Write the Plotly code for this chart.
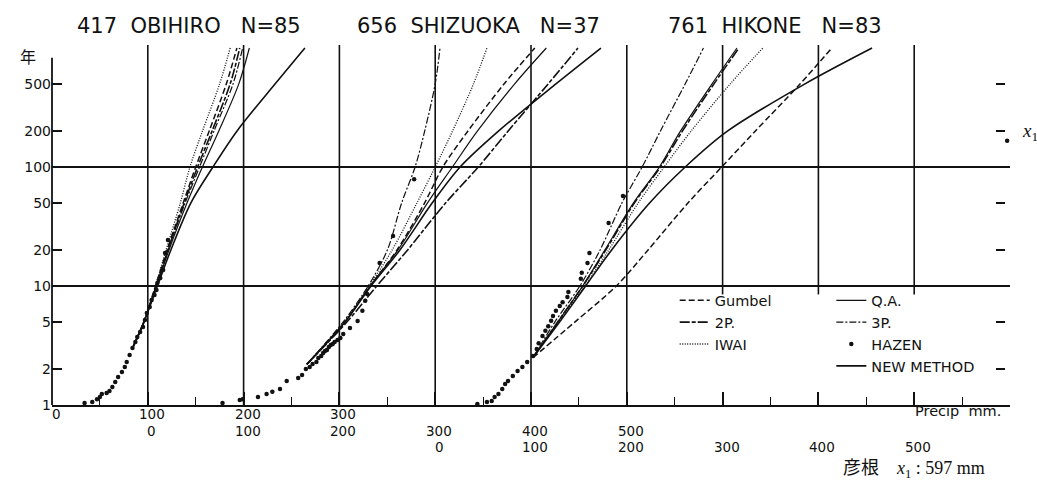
import math
import plotly.graph_objects as go

# ---------------- data (precipitation in each station's own mm, return period T in years) -------------
station_names = ["OBIHIRO", "SHIZUOKA", "HIKONE"]
station_titles = ["417\u00a0\u00a0OBIHIRO\u00a0\u00a0\u00a0N=85",
                  "656\u00a0\u00a0SHIZUOKA\u00a0\u00a0\u00a0N=37",
                  "761\u00a0\u00a0HIKONE\u00a0\u00a0\u00a0N=83"]
station_offsets = [0, 100, 400]          # where each station's 0 mm sits on the shared axis

methods = ["Gumbel", "Q.A.", "2P.", "3P.", "IWAI", "NEW METHOD"]

# OBIHIRO
obi_T = [3, 5, 10, 20, 50, 100, 200, 500, 1000]
obi_gumbel = [84, 96, 108, 120, 137, 150, 164, 182, 193]
obi_2p = [84, 96, 109, 121, 138, 152, 167, 186, 196]
obi_3p = [84, 96, 109, 121, 139, 154, 169, 189, 199]
obi_qa = [84, 96, 109, 122, 141, 157, 174, 195, 206]
obi_iwai = [84, 96, 108, 119, 134, 144, 157, 175, 186]
obi_new = [84, 96, 110, 124, 145, 168, 193, 233, 264]
obi_hazen_mm = [34, 42, 47, 50, 52, 57, 60, 63, 66, 69, 73, 76, 78, 81, 84, 87, 89, 92, 95, 97,
                99, 102, 104, 107, 109, 110, 113, 116, 118, 121]
obi_hazen_T = [1.04, 1.06, 1.12, 1.17, 1.24, 1.26, 1.31, 1.42, 1.56, 1.72, 1.89, 2.09, 2.3, 2.63,
               3.01, 3.38, 3.72, 4.11, 4.52, 5.18, 5.94, 6.66, 7.62, 8.4, 9.25, 10.6, 11.7, 13.6,
               18.9, 24.4]

# SHIZUOKA
shz_T = [2.2, 5, 10, 20, 50, 100, 200, 500, 1000]
shz_gumbel = [166, 206, 232, 260, 289, 308, 334, 372, 404]
shz_2p = [166, 208, 239, 271, 311, 345, 376, 418, 449]
shz_3p = [166, 204, 230, 250, 265, 279, 289, 300, 305]
shz_qa = [166, 206, 232, 261, 292, 318, 344, 383, 416]
shz_iwai = [166, 205, 231, 255, 281, 300, 318, 340, 354]
shz_new = [166, 206, 233, 263, 297, 326, 366, 426, 473]
shz_hazen_mm = [78, 96, 99, 115, 124, 130, 138, 145, 157, 161, 165, 169, 172, 176, 178, 181, 183,
                185, 187, 189, 191, 193, 195, 198, 201, 204, 211, 219, 224, 227, 229, 242, 256, 278]
shz_hazen_T = [1.04, 1.10, 1.12, 1.17, 1.24, 1.29, 1.36, 1.59, 1.69, 1.79, 2.01, 2.09, 2.21, 2.30,
               2.48, 2.58, 2.73, 2.84, 2.90, 3.07, 3.19, 3.25, 3.38, 3.52, 3.66, 3.95, 4.44, 5.08,
               6.2, 7.5, 8.56, 15.6, 26.3, 79]

# HIKONE
hik_T = [2.5, 5, 10, 20, 50, 100, 200, 500, 1000]
hik_gumbel = [102, 146, 189, 222, 264, 299, 334, 381, 414]
hik_2p = [102, 128, 154, 178, 208, 235, 258, 291, 317]
hik_3p = [102, 125, 151, 172, 195, 216, 235, 261, 280]
hik_qa = [102, 128, 154, 177, 207, 234, 256, 289, 315]
hik_iwai = [102, 129, 156, 181, 212, 239, 267, 308, 342]
hik_new = [102, 130, 157, 184, 224, 261, 305, 386, 456]
hik_hazen_mm = [44, 54, 59, 62, 66, 70, 73, 76, 81, 86, 91, 96, 102, 106, 108, 112, 115, 118, 121,
                123, 126, 130, 133, 138, 139, 152, 153, 159, 161, 181, 196]
hik_hazen_T = [1.02, 1.06, 1.08, 1.17, 1.24, 1.36, 1.50, 1.59, 1.75, 1.93, 2.09, 2.30, 2.58, 2.96,
               3.3, 3.8, 4.2, 4.6, 5.1, 5.6, 6.2, 6.8, 7.3, 8.1, 8.9, 11.5, 12.9, 15.6, 18.9, 33.8,
               57.1]
hik_x1_mm = 597
hik_x1_T = 166

# axis labelling
y_tick_vals = [1, 2, 5, 10, 20, 50, 100, 200, 500]
y_tick_text = ["1", "2", "5", "10", "20", "50", "100", "200", "500"]
y_mirror_ticks = [2, 5, 20, 50, 200, 500]
y_grid_vals = [10, 100]
y_axis_top = 830
x_full_grid = [100, 200, 300, 400, 500, 600]
x_short_grid = [700, 800, 900]
x_label_mm = [[0, 100, 200, 300], [0, 100, 200, 300, 400, 500], [0, 100, 200, 300, 400, 500]]

# ---------------- figure ----------------
curves = {
    "OBIHIRO": (obi_T, {"Gumbel": obi_gumbel, "Q.A.": obi_qa, "2P.": obi_2p, "3P.": obi_3p,
                        "IWAI": obi_iwai, "NEW METHOD": obi_new}, obi_hazen_mm, obi_hazen_T),
    "SHIZUOKA": (shz_T, {"Gumbel": shz_gumbel, "Q.A.": shz_qa, "2P.": shz_2p, "3P.": shz_3p,
                         "IWAI": shz_iwai, "NEW METHOD": shz_new}, shz_hazen_mm, shz_hazen_T),
    "HIKONE": (hik_T, {"Gumbel": hik_gumbel, "Q.A.": hik_qa, "2P.": hik_2p, "3P.": hik_3p,
                       "IWAI": hik_iwai, "NEW METHOD": hik_new}, hik_hazen_mm, hik_hazen_T),
}

styles = {
    "Gumbel": dict(dash="6px,3px", width=1.5),
    "Q.A.": dict(dash="solid", width=1.2),
    "2P.": dict(dash="10px,2px,4px,2px", width=1.6),
    "3P.": dict(dash="7px,2px,2px,2px", width=1.2),
    "IWAI": dict(dash="1px,1.5px", width=1.3),
    "NEW METHOD": dict(dash="solid", width=1.6),
}
# two legend columns as in the original
legend_of = {"Gumbel": "legend", "2P.": "legend", "IWAI": "legend",
             "Q.A.": "legend2", "3P.": "legend2", "HAZEN": "legend2", "NEW METHOD": "legend2"}
rank = {"Gumbel": 1, "2P.": 2, "IWAI": 3, "Q.A.": 1, "3P.": 2, "HAZEN": 3, "NEW METHOD": 4}

FONT = "DejaVu Sans"
INK = "#111111"
YTOP = math.log10(1060)

fig = go.Figure()

for si, name in enumerate(station_names):
    off = station_offsets[si]
    T, mdict, hz_mm, hz_T = curves[name]
    for m in methods:
        st = styles[m]
        fig.add_trace(go.Scatter(
            x=[v + off for v in mdict[m]], y=T, mode="lines", name=m, legendgroup=m,
            legend=legend_of[m], showlegend=(si == 0), legendrank=rank[m],
            line=dict(color=INK, width=st["width"], dash=st["dash"], shape="spline", smoothing=0.9),
            hoverinfo="skip"))
    fig.add_trace(go.Scatter(
        x=[v + off for v in hz_mm], y=hz_T, mode="markers", name="HAZEN", legendgroup="HAZEN",
        legend=legend_of["HAZEN"], showlegend=(si == 0), legendrank=rank["HAZEN"],
        marker=dict(color=INK, size=4.5), hoverinfo="skip"))

# x1 of Hikone (plotted on the mirrored right-hand axis)
fig.add_trace(go.Scatter(x=[hik_x1_mm + station_offsets[2]], y=[hik_x1_T], yaxis="y2",
                         mode="markers", marker=dict(color=INK, size=4.5), showlegend=False,
                         hoverinfo="skip"))

# grid lines and the left axis line (which stops short of the top, as in the original)
shapes = []
for gx in x_full_grid:
    shapes.append(dict(type="line", xref="x", yref="paper", x0=gx, x1=gx, y0=0, y1=1,
                       line=dict(color=INK, width=1.6)))
for gx in x_short_grid:
    shapes.append(dict(type="line", xref="x", yref="paper", x0=gx, x1=gx,
                       y0=math.log10(8.5) / YTOP, y1=1, line=dict(color=INK, width=1.6)))
for gy in y_grid_vals:
    shapes.append(dict(type="line", xref="paper", yref="paper", x0=0, x1=1,
                       y0=math.log10(gy) / YTOP, y1=math.log10(gy) / YTOP,
                       line=dict(color=INK, width=1.8)))
shapes.append(dict(type="line", xref="paper", yref="paper", x0=0, x1=0, y0=0,
                   y1=math.log10(y_axis_top) / YTOP, line=dict(color=INK, width=1.8)))

annotations = []
# station titles
title_x = [0.143, 0.4457, 0.7547]
for t, tx in zip(station_titles, title_x):
    annotations.append(dict(text=t, xref="paper", yref="paper", x=tx, y=1.053, xanchor="center",
                            yanchor="middle", showarrow=False,
                            font=dict(family=FONT, size=21, color=INK)))
# three rows of x tick labels
row_y = [-0.024, -0.072, -0.116]
for si in range(3):
    for v in x_label_mm[si]:
        annotations.append(dict(text=str(v), xref="x", yref="paper", x=v + station_offsets[si],
                                xshift=4, y=row_y[si], xanchor="center", yanchor="middle",
                                showarrow=False, font=dict(family=FONT, size=13.5, color=INK)))
annotations.append(dict(text="Precip\u00a0\u00a0mm.", xref="paper", yref="paper", x=0.993, y=-0.018,
                        xanchor="right", yanchor="middle", showarrow=False,
                        font=dict(family=FONT, size=14.5, color=INK)))
annotations.append(dict(text="年", xref="paper", yref="paper", x=-0.025, y=0.97, xanchor="center",
                        yanchor="middle", showarrow=False,
                        font=dict(family="Noto Sans CJK JP", size=16, color=INK)))
annotations.append(dict(text="<i>x</i><sub>1</sub>", xref="paper", yref="paper", x=1.01,
                        y=(math.log10(hik_x1_T) + 0.07) / YTOP, xanchor="left", yanchor="middle",
                        showarrow=False, font=dict(family="Liberation Serif", size=19, color=INK)))
annotations.append(dict(text="彦根\u00a0\u00a0\u00a0\u00a0<i>x</i><sub>1</sub>\u00a0:\u00a0597\u00a0mm",
                        xref="paper", yref="paper", x=0.976, y=-0.18, xanchor="right",
                        yanchor="middle", showarrow=False,
                        font=dict(family="Liberation Serif, Noto Sans CJK JP", size=18, color=INK)))

legend_common = dict(orientation="v", xanchor="left", yanchor="top", traceorder="normal",
                     bgcolor="rgba(0,0,0,0)", borderwidth=0, itemwidth=30,
                     font=dict(family=FONT, size=14.5, color=INK))

fig.update_layout(
    width=1037, height=489,
    margin=dict(l=52, r=27, t=45, b=84, autoexpand=False),
    paper_bgcolor="white", plot_bgcolor="white",
    showlegend=True,
    legend=dict(x=0.650, y=0.335, **legend_common),
    legend2=dict(x=0.8135, y=0.335, **legend_common),
    xaxis=dict(range=[0, 1000], showgrid=False, zeroline=False, showline=True, linecolor=INK,
               linewidth=1.8, ticks="inside", tickmode="linear", tick0=0, dtick=100, ticklen=13,
               tickwidth=1.5, tickcolor=INK, showticklabels=False,
               minor=dict(ticks="inside", tick0=50, dtick=100, ticklen=8, tickwidth=1.3,
                          tickcolor=INK)),
    yaxis=dict(type="log", range=[0, YTOP], showgrid=False, zeroline=False, showline=False,
               ticks="inside", ticklen=10, tickwidth=1.5,
               tickcolor=INK, tickmode="array", tickvals=y_tick_vals, ticktext=y_tick_text,
               tickfont=dict(family=FONT, size=14, color=INK)),
    yaxis2=dict(type="log", range=[0, YTOP], overlaying="y", side="right", anchor="free",
                position=0.995, showgrid=False, zeroline=False, showline=False, ticks="inside",
                ticklen=9, tickwidth=1.5, tickcolor=INK, tickmode="array", tickvals=y_mirror_ticks,
                showticklabels=False),
    shapes=shapes,
    annotations=annotations,
)

fig.write_html("out.html")
